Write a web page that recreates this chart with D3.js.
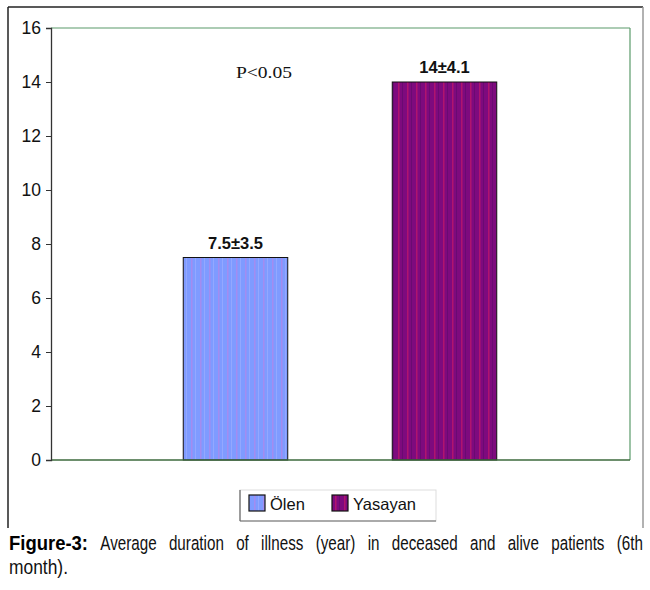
<!DOCTYPE html>
<html><head><meta charset="utf-8">
<script src="https://cdn.jsdelivr.net/npm/d3@7"></script>
<style>body{margin:0;background:#fff}svg{display:block}</style>
</head><body>
<script>
const categories = ["Ölen", "Yasayan"];
const values = [7.5, 14];
const valueLabels = ["7.5±3.5", "14±4.1"];
const yTicks = [0, 2, 4, 6, 8, 10, 12, 14, 16];
const pText = "P<0.05";
const captionBold = "Figure-3:";
const captionRest = "Average duration of illness (year) in deceased and alive patients (6th month).";

const W = 650, H = 590;
const svg = d3.select("body").append("svg").attr("width", W).attr("height", H);
const defs = svg.append("defs");

function stripes(id, base, stripe, stripe2) {
  const p = defs.append("pattern").attr("id", id).attr("patternUnits", "userSpaceOnUse")
    .attr("width", 9).attr("height", 10);
  p.append("rect").attr("width", 9).attr("height", 10).attr("fill", base);
  p.append("rect").attr("x", 2).attr("width", 1.5).attr("height", 10).attr("fill", stripe);
  p.append("rect").attr("x", 6).attr("width", 1).attr("height", 10).attr("fill", stripe2);
}
stripes("pBlue", "#7f9bff", "#a38cf0", "#93a8ff");
stripes("pPurple", "#7e0a7e", "#b0146e", "#6a0a72");
const fills = ["url(#pBlue)", "url(#pPurple)"];

// outer frame
svg.append("line").attr("x1", 8).attr("x2", 643).attr("y1", 7).attr("y2", 7).attr("stroke", "#222").attr("stroke-width", 1.5);
svg.append("line").attr("x1", 8).attr("x2", 8).attr("y1", 7).attr("y2", 528).attr("stroke", "#222").attr("stroke-width", 1.5);
svg.append("line").attr("x1", 643).attr("x2", 643).attr("y1", 7).attr("y2", 528).attr("stroke", "#999").attr("stroke-width", 1.5);

const pLeft = 51, pRight = 630, pTop = 28, pBottom = 460;
const y = d3.scaleLinear().domain([0, 16]).range([pBottom, pTop]);
const x = d3.scaleBand().domain(categories).range([131, 549]).paddingInner(0.5).paddingOuter(0.25);

// plot border (top/right green)
svg.append("line").attr("x1", pLeft).attr("x2", pRight).attr("y1", pTop).attr("y2", pTop).attr("stroke", "#5a9a6a").attr("stroke-width", 1.2);
svg.append("line").attr("x1", pRight).attr("x2", pRight).attr("y1", pTop).attr("y2", pBottom).attr("stroke", "#5a9a6a").attr("stroke-width", 1.2);

// bars
svg.selectAll("rect.bar").data(categories).enter().append("rect").attr("class", "bar")
  .attr("x", d => x(d)).attr("width", x.bandwidth())
  .attr("y", (d, i) => y(values[i])).attr("height", (d, i) => y(0) - y(values[i]))
  .attr("fill", (d, i) => fills[i]).attr("stroke", "#111").attr("stroke-width", 1);

// x baseline
svg.append("line").attr("x1", pLeft).attr("x2", pRight).attr("y1", pBottom).attr("y2", pBottom).attr("stroke", "#3c6a3c").attr("stroke-width", 1.3);

// y axis
const yAxis = d3.axisLeft(y).tickValues(yTicks).tickSize(5).tickPadding(5).tickFormat(d3.format("d"));
const ga = svg.append("g").attr("transform", `translate(${pLeft},0)`).call(yAxis);
ga.select(".domain").attr("stroke", "#333").attr("stroke-width", 1.3);
ga.selectAll(".tick line").attr("stroke", "#333");
ga.selectAll(".tick text").attr("font-family", "Liberation Sans, Arial, sans-serif").attr("font-size", 17.5).attr("fill", "#111");

// value labels
svg.selectAll("text.vl").data(categories).enter().append("text").attr("class", "vl")
  .attr("x", d => x(d) + x.bandwidth() / 2).attr("y", (d, i) => y(values[i]) - 9)
  .attr("text-anchor", "middle").attr("font-family", "Liberation Sans, Arial, sans-serif")
  .attr("font-weight", "bold").attr("font-size", 16.5).attr("fill", "#111")
  .text((d, i) => valueLabels[i]);

// p-value
svg.append("text").attr("x", 236).attr("y", 78)
  .attr("font-family", "Liberation Serif, Times New Roman, serif").attr("font-size", 16)
  .attr("textLength", 56).attr("lengthAdjust", "spacingAndGlyphs")
  .attr("fill", "#111").text(pText);

// legend
const lg = svg.append("g");
lg.append("rect").attr("x", 240).attr("y", 490).attr("width", 196).attr("height", 31).attr("fill", "#fff").attr("stroke", "#ddd");
lg.append("line").attr("x1", 240).attr("x2", 436).attr("y1", 521).attr("y2", 521).attr("stroke", "#666").attr("stroke-width", 1.2);
lg.append("line").attr("x1", 240).attr("x2", 240).attr("y1", 490).attr("y2", 521).attr("stroke", "#666").attr("stroke-width", 1.2);
const legX = [249, 332];
categories.forEach((c, i) => {
  lg.append("rect").attr("x", legX[i]).attr("y", 495).attr("width", 16).attr("height", 16)
    .attr("fill", fills[i]).attr("stroke", "#111").attr("stroke-width", 1.2);
  lg.append("text").attr("x", legX[i] + 21).attr("y", 510).attr("font-family", "Liberation Sans, Arial, sans-serif")
    .attr("font-size", 16.5).attr("fill", "#111").text(c);
});

// caption (justified first line, horizontally condensed via transform)
const capFont = "Liberation Sans, Arial, sans-serif";
const words = [captionBold].concat(captionRest.split(" "));
const line1 = words.slice(0, words.length - 1);
const line2 = words.slice(words.length - 1);
const cap = svg.append("g").attr("font-family", capFont).attr("font-size", 19.5).attr("fill", "#111");
const squeeze = 0.78;
const natural = line1.map((w, i) => {
  const t = cap.append("text").attr("font-weight", i === 0 ? "bold" : "normal").text(w);
  const wd = t.node().getComputedTextLength();
  t.remove();
  return wd;
});
const scales = natural.map((wd, i) => i === 0 ? 79 / wd : squeeze);
const widths = natural.map((wd, i) => wd * scales[i]);
const total = d3.sum(widths);
const gap = (643 - 9 - total) / (line1.length - 1);
let cx = 9;
line1.forEach((w, i) => {
  cap.append("text").attr("transform", `translate(${cx},550) scale(${scales[i]},1)`)
    .attr("font-weight", i === 0 ? "bold" : "normal")
    .attr("fill", i === 0 ? "#000" : "#111").text(w);
  cx += widths[i] + gap;
});
const l2 = cap.append("text").text(line2.join(" "));
const l2w = l2.node().getComputedTextLength();
l2.attr("transform", `translate(9,574) scale(${59 / l2w},1)`);
</script>
</body></html>
